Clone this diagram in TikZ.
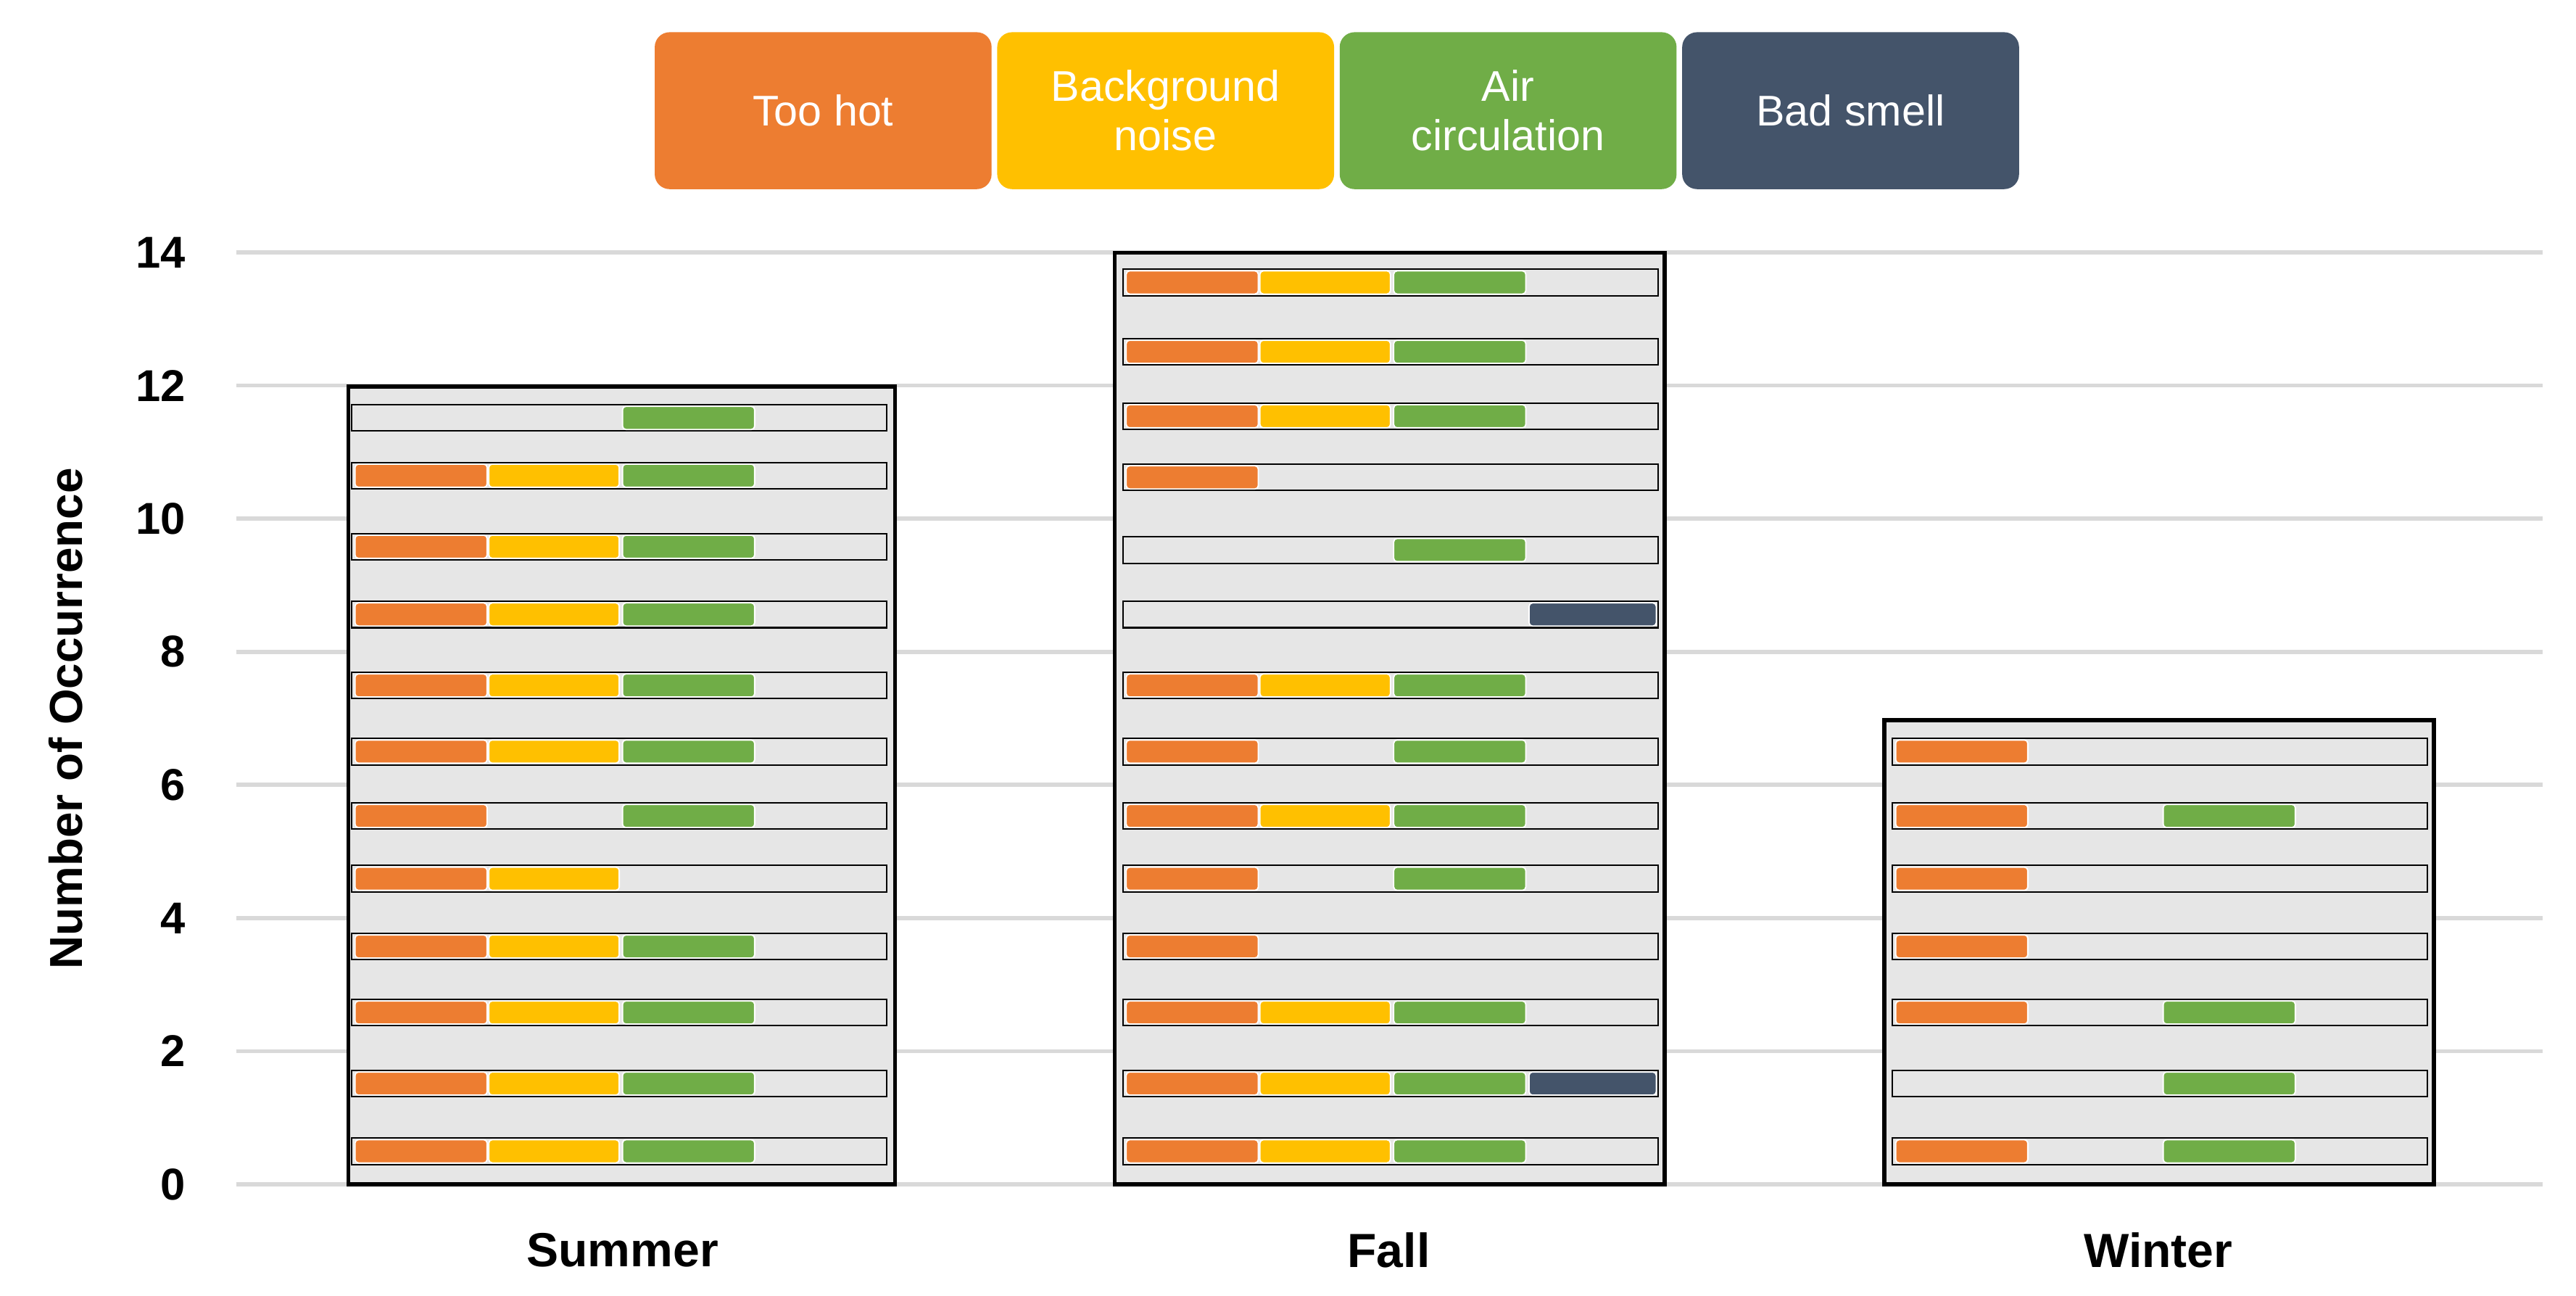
\documentclass[tikz,border=0pt]{standalone}
\usepackage{fontspec}
\setmainfont{Liberation Sans}
\usetikzlibrary{positioning}
\definecolor{hot}{HTML}{ED7D31}
\definecolor{noise}{HTML}{FFC000}
\definecolor{air}{HTML}{70AD47}
\definecolor{smell}{HTML}{44546A}
\definecolor{barfill}{HTML}{E6E6E6}
\definecolor{gridc}{HTML}{D9D9D9}
\tikzset{
 legend/.style={rounded corners=9pt,minimum width=204pt,minimum height=95pt,
   text=white,font=\fontsize{26}{30}\selectfont,align=center,inner sep=0pt},
 tick/.style={font=\bfseries\fontsize{27}{30}\selectfont,anchor=east},
 cat/.style={font=\bfseries\fontsize{29}{32}\selectfont},
 cell/.style={rounded corners=2pt,draw=white,line width=0.8pt},
}
% one strip: left edge, centre y, flags hot/noise/air/smell
\newcommand{\strip}[6]{%
 \draw[fill=barfill,line width=0.9pt] (#1+2,#2-8) rectangle (#1+326,#2+8);
 \ifnum#3=1 \fill[hot,cell] (#1+4,#2-7) rectangle (#1+84,#2+7);\fi
 \ifnum#4=1 \fill[noise,cell] (#1+85,#2-7) rectangle (#1+164,#2+7);\fi
 \ifnum#5=1 \fill[air,cell] (#1+166,#2-7) rectangle (#1+246,#2+7);\fi
 \ifnum#6=1 \fill[smell,cell] (#1+248,#2-7) rectangle (#1+325,#2+7);\fi
}
\begin{document}
\begin{tikzpicture}[x=1pt,y=-1pt]
 \useasboundingbox (0,0) rectangle (1560,784.2);

 % Gitter und Achse
 \foreach \v in {0,2,...,14}{
  \draw[gridc,line width=2.5pt] (143,717-40.3*\v) -- (1540,717-40.3*\v);
  \node[tick] at (116,717-40.3*\v) {\v};
 }
 \node[rotate=90,font=\bfseries\fontsize{28}{30}\selectfont] (ytitle) at (40,435) {Number of Occurrence};

 % Balken
 \draw[fill=barfill,line width=2.5pt] (211,717) rectangle (542,234);
 \draw[fill=barfill,line width=2.5pt] (675,717) rectangle (1008,153);
 \draw[fill=barfill,line width=2.5pt] (1141,717) rectangle (1474,436);

 % Sommer
 \foreach \yc/\a/\b/\c/\d in {697/1/1/1/0,656/1/1/1/0,613/1/1/1/0,573/1/1/1/0,532/1/1/0/0,
   494/1/0/1/0,455/1/1/1/0,415/1/1/1/0,372/1/1/1/0,331/1/1/1/0,288/1/1/1/0,253/0/0/1/0}
  {\strip{211}{\yc}{\a}{\b}{\c}{\d}}
 % Herbst
 \foreach \yc/\a/\b/\c/\d in {697/1/1/1/0,656/1/1/1/1,613/1/1/1/0,573/1/0/0/0,532/1/0/1/0,
   494/1/1/1/0,455/1/0/1/0,415/1/1/1/0,372/0/0/0/1,333/0/0/1/0,289/1/0/0/0,
   252/1/1/1/0,213/1/1/1/0,171/1/1/1/0}
  {\strip{678}{\yc}{\a}{\b}{\c}{\d}}
 % Winter
 \foreach \yc/\a/\b/\c/\d in {697/1/0/1/0,656/0/0/1/0,613/1/0/1/0,573/1/0/0/0,
   532/1/0/0/0,494/1/0/1/0,455/1/0/0/0}
  {\strip{1144}{\yc}{\a}{\b}{\c}{\d}}

 % Kategorien
 \node[cat] (summer) at (377,757) {Summer};
 \node[cat] (fall) at (841,757) {Fall};
 \node[cat] (winter) at (1307,757) {Winter};

 % Legende
 \node[legend,fill=hot] (hot) at (498.5,67) {Too hot};
 \node[legend,fill=noise,right=3pt of hot] (noise) {Background\\noise};
 \node[legend,fill=air,right=3pt of noise] (air) {Air\\circulation};
 \node[legend,fill=smell,right=3pt of air] (smell) {Bad smell};
\end{tikzpicture}
\end{document}
